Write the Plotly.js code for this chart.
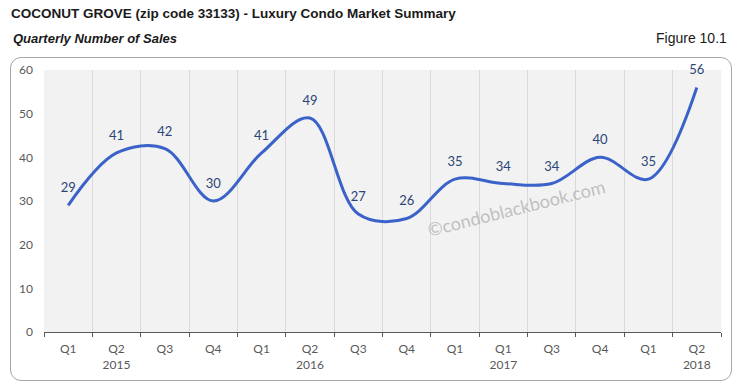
<!DOCTYPE html>
<html>
<head>
<meta charset="utf-8">
<script src="https://cdn.plot.ly/plotly-3.0.1.min.js"></script>
<style>
  html, body { margin: 0; padding: 0; background: #ffffff; }
  #wrap { position: relative; width: 742px; height: 390px; }
  #frame { position: absolute; left: 10px; top: 57px; width: 722px; height: 324px;
           border: 1px solid #a6a6a6; border-radius: 11px; box-sizing: border-box; }
  #chart { position: absolute; left: 0; top: 0; width: 742px; height: 390px; }
</style>
</head>
<body>
<div id="wrap">
  <div id="frame"></div>
  <div id="chart"></div>
</div>
<script>
// ---- data ----
const quarters = ['Q1','Q2','Q3','Q4','Q1','Q2','Q3','Q4','Q1','Q1','Q3','Q4','Q1','Q2'];
const years    = ['', '2015', '', '', '', '2016', '', '', '', '2017', '', '', '', '2018'];
const sales    = [29, 41, 42, 30, 41, 49, 27, 26, 35, 34, 34, 40, 35, 56];

const idx = quarters.map((_, i) => i);
const tickText = quarters.map((q, i) => years[i] ? q + '<br>' + years[i] : q);

const narrow = '"Liberation Sans Narrow", "Arial Narrow", "Liberation Sans", Arial, sans-serif';
const soft = 'Lato, Calibri, "Open Sans", sans-serif';

const trace = {
  x: idx,
  y: sales,
  type: 'scatter',
  mode: 'lines+markers+text',
  line: { shape: 'spline', smoothing: 1, color: '#3a62c8', width: 3 },
  marker: { size: 14, opacity: 0, color: '#3a62c8' },
  text: sales.map(String),
  textposition: 'top center',
  textfont: { family: soft, size: 13, color: '#2b4578' },
  cliponaxis: false,
  hoverinfo: 'skip',
  showlegend: false
};

const layout = {
  width: 742,
  height: 390,
  margin: { l: 44, r: 21, t: 70, b: 58, pad: 0 },
  paper_bgcolor: 'rgba(0,0,0,0)',
  plot_bgcolor: '#f2f2f2',
  showlegend: false,
  title: {
    text: '<b>COCONUT GROVE (zip code 33133) - Luxury Condo Market Summary</b>',
    font: { family: narrow, size: 13.5, color: '#1a1a1a' },
    x: 11 / 742, xanchor: 'left', xref: 'container',
    y: 1 - 13 / 390, yanchor: 'middle', yref: 'container'
  },
  xaxis: {
    type: 'linear',
    range: [-0.5, sales.length - 0.5],
    tickmode: 'array',
    tickvals: idx,
    ticktext: tickText,
    ticks: '',
    showgrid: false,
    zeroline: false,
    showline: true,
    linecolor: '#595959',
    linewidth: 1,
    tickfont: { family: soft, size: 12, color: '#595959' },
    ticklabelstandoff: 6,
    minor: {
      tickmode: 'linear',
      tick0: -0.5,
      dtick: 1,
      showgrid: true,
      gridcolor: '#d9d9d9',
      gridwidth: 1,
      ticks: 'outside',
      ticklen: 4,
      tickcolor: '#595959',
      tickwidth: 1
    },
    fixedrange: true
  },
  yaxis: {
    range: [0, 60],
    tickmode: 'linear',
    tick0: 0,
    dtick: 10,
    showgrid: false,
    zeroline: false,
    showline: false,
    ticks: '',
    tickfont: { family: soft, size: 12, color: '#595959' },
    ticklabelstandoff: 10,
    fixedrange: true
  },
  annotations: [
    {
      text: '<b><i>Quarterly Number of Sales</i></b>',
      xref: 'paper', yref: 'paper',
      x: (11 - 44) / 677, y: (332 - 38) / 262,
      xanchor: 'left', yanchor: 'middle',
      showarrow: false,
      font: { family: narrow, size: 13, color: '#1a1a1a' }
    },
    {
      text: 'Figure 10.1',
      xref: 'paper', yref: 'paper',
      x: (729 - 44) / 677, y: (332 - 38) / 262,
      xanchor: 'right', yanchor: 'middle',
      showarrow: false,
      font: { family: narrow, size: 14, color: '#1a1a1a' }
    },
    {
      text: '©condoblackbook.com',
      xref: 'paper', yref: 'paper',
      x: (516 - 44) / 677, y: (332 - 208) / 262,
      xanchor: 'center', yanchor: 'middle',
      textangle: -14,
      showarrow: false,
      font: { family: soft, size: 18, color: 'rgba(175,175,175,0.75)' }
    }
  ]
};

Plotly.newPlot('chart', [trace], layout, { displayModeBar: false, staticPlot: true });
</script>
</body>
</html>
